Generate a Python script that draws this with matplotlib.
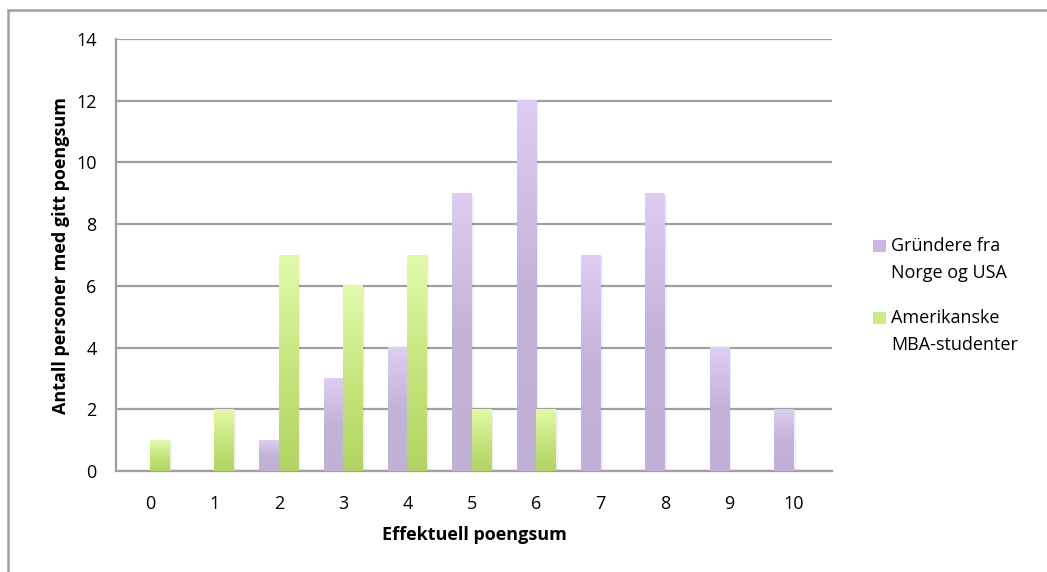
import matplotlib.pyplot as plt
import numpy as np
from matplotlib.colors import LinearSegmentedColormap
from matplotlib.patches import Rectangle

scores = [0, 1, 2, 3, 4, 5, 6, 7, 8, 9, 10]
grundere = [0, 0, 1, 3, 4, 9, 12, 7, 9, 4, 2]
mba = [1, 2, 7, 6, 7, 2, 2, 0, 0, 0, 0]
series_labels = ["Gründere fra\nNorge og USA", "Amerikanske\nMBA-studenter"]
y_ticks = [0, 2, 4, 6, 8, 10, 12, 14]

plt.rcParams['font.family'] = ['Open Sans', 'DejaVu Sans']
FS = 13

W, H = 1047, 572
fig = plt.figure(figsize=(W / 100, H / 100), dpi=100)
ax = fig.add_axes([116 / W, 1 - 471 / H, (832 - 116) / W, (471 - 39) / H])

# gradient colours: light at the top of each bar, darker below
purple = LinearSegmentedColormap.from_list('p', [(0, '#c1b2d5'), (0.5, '#c3b4d7'), (1, '#ddcef1')])
green = LinearSegmentedColormap.from_list('g', [(0, '#b2d463'), (0.45, '#c4e47b'), (1, '#e3f9ab')])

x = np.arange(len(scores))
w = 0.3
bars_p = ax.bar(x - w / 2, grundere, w, color='none', zorder=3)
bars_g = ax.bar(x + w / 2, mba, w, color='none', zorder=3)

grad = np.linspace(0, 1, 200).reshape(-1, 1)
for bars, cmap in [(bars_p, purple), (bars_g, green)]:
    for b in bars:
        h = b.get_height()
        if h <= 0:
            continue
        x0 = b.get_x()
        # soft shadow to the right of the bar
        ax.add_patch(Rectangle((x0 + 0.035, 0), b.get_width(), h - 0.04,
                               color='#000000', alpha=0.06, lw=0, zorder=2))
        ax.imshow(grad, extent=(x0, x0 + b.get_width(), 0, h), origin='lower',
                  aspect='auto', cmap=cmap, interpolation='bicubic', zorder=3)

ax.set_xlim(-0.53, 10.6)
ax.set_ylim(0, 14)
ax.set_xticks(x)
ax.set_xticklabels([str(s) for s in scores], fontsize=FS)
ax.set_yticks(y_ticks)
ax.set_yticklabels([str(t) for t in y_ticks], fontsize=FS)
ax.tick_params(length=0, pad=14, axis='y')
ax.tick_params(length=0, pad=17, axis='x')

ax.grid(axis='y', color='#a0a0a0', lw=1.6, zorder=1)
ax.set_axisbelow(True)
for s in ['top', 'right']:
    ax.spines[s].set_visible(False)
for s in ['left', 'bottom']:
    ax.spines[s].set_color('#a0a0a0')
    ax.spines[s].set_linewidth(1.6)

ax.set_xlabel("Effektuell poengsum", fontsize=FS, fontweight='bold', labelpad=10)
ax.set_ylabel("Antall personer med gitt poengsum", fontsize=FS, fontweight='bold', labelpad=4)

# legend drawn by hand so the swatch lines up with the first text line
leg_y = [246, 318]
for lab, cmap, yy in zip(series_labels, [purple, green], leg_y):
    fig.add_artist(Rectangle((873 / W, 1 - (yy + 6) / H), 13 / W, 12 / H,
                             transform=fig.transFigure, color=cmap(0.6), lw=0))
    for i, line in enumerate(lab.split('\n')):
        fig.text(891 / W, 1 - (yy + 27 * i) / H, line, fontsize=FS,
                 va='center', ha='left')

# outer chart border
fig.add_artist(Rectangle((8 / W, -0.1), 1.2, 1 - 10 / H + 0.1, transform=fig.transFigure,
                         fill=False, ec='#a0a0a0', lw=1.8))

fig.savefig("out.png", dpi=100)
